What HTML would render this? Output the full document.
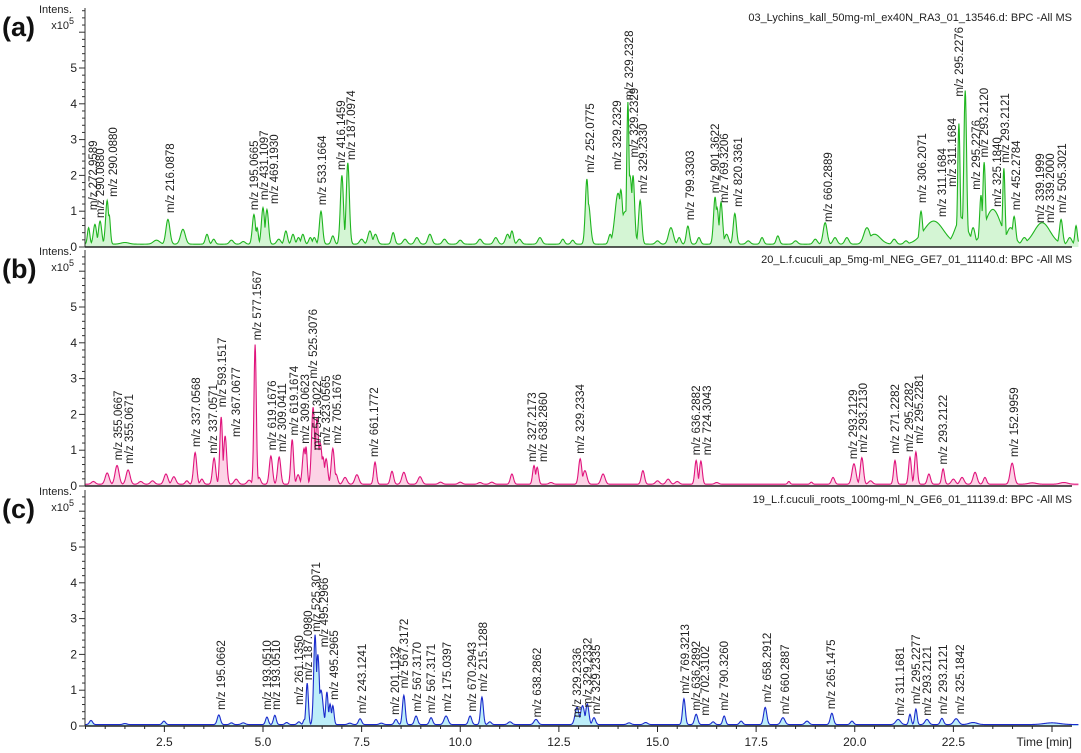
<!DOCTYPE html>
<html><head><meta charset="utf-8"><style>
html,body{margin:0;padding:0;background:#fff}
svg{display:block;font-family:"Liberation Sans",Arial,sans-serif}
</style></head><body>
<svg id="chart" width="1081" height="753" viewBox="0 0 1081 753"></svg>
<script>
// ---------- DATA ----------
const panelIds = ["a","b","c"];
const panelTitles = ["03_Lychins_kall_50mg-ml_ex40N_RA3_01_13546.d: BPC -All MS",
  "20_L.f.cuculi_ap_5mg-ml_NEG_GE7_01_11140.d: BPC -All MS",
  "19_L.f.cuculi_roots_100mg-ml_N_GE6_01_11139.d: BPC -All MS"];
const yTicks = [0,1,2,3,4,5];
const xTicks = [2.5,5.0,7.5,10.0,12.5,15.0,17.5,20.0,22.5];
const xTickLabels = ["2.5","5.0","7.5","10.0","12.5","15.0","17.5","20.0","22.5"];
const baselines = [0.08,0.05,0.04];
// peaks: [retention time (min), intensity (x1e5), width (min)]
const peaksA = [[0.58,0.5,0.03],[0.74,0.6,0.04],[0.87,0.7,0.04],[1.05,1.3,0.04],[1.1,0.9,0.03],[1.5,0.05,0.1],[2.3,0.12,0.08],[2.59,0.75,0.05],[2.97,0.45,0.06],[3.58,0.3,0.04],[3.75,0.15,0.04],[4.2,0.12,0.05],[4.5,0.08,0.05],[4.77,0.9,0.04],[4.85,0.5,0.03],[5.0,1.1,0.04],[5.1,1.05,0.04],[5.4,0.15,0.05],[5.58,0.4,0.04],[5.76,0.3,0.04],[5.9,0.2,0.04],[6.01,0.3,0.04],[6.2,0.2,0.04],[6.3,0.2,0.04],[6.47,1.0,0.04],[6.77,0.25,0.04],[7.0,2.0,0.04],[7.15,2.35,0.04],[7.5,0.15,0.05],[7.71,0.4,0.05],[7.85,0.3,0.05],[8.3,0.35,0.04],[8.6,0.15,0.05],[8.9,0.2,0.05],[9.23,0.3,0.05],[9.6,0.15,0.05],[10.0,0.12,0.05],[10.5,0.15,0.05],[10.9,0.2,0.05],[11.2,0.3,0.05],[11.31,0.4,0.04],[11.5,0.15,0.05],[12.02,0.2,0.05],[12.6,0.15,0.04],[12.85,0.12,0.04],[13.21,1.9,0.04],[13.25,1.2,0.05],[13.8,0.3,0.04],[14.0,1.5,0.08],[14.07,1.6,0.05],[14.25,4.05,0.03],[14.3,2.0,0.06],[14.38,2.0,0.04],[14.2,1.0,0.15],[14.56,1.3,0.04],[15.0,0.1,0.05],[15.34,0.5,0.06],[15.55,0.2,0.04],[15.77,0.55,0.04],[16.05,0.2,0.04],[16.46,1.4,0.04],[16.51,1.1,0.04],[16.61,1.25,0.04],[16.75,0.3,0.05],[16.96,0.93,0.04],[17.3,0.1,0.05],[17.65,0.2,0.04],[18.05,0.25,0.04],[18.5,0.1,0.05],[19.0,0.15,0.05],[19.25,0.65,0.05],[19.5,0.2,0.05],[19.8,0.2,0.05],[20.31,0.5,0.08],[20.5,0.3,0.15],[21.0,0.15,0.05],[21.3,0.1,0.05],[21.68,1.0,0.04],[22.0,0.7,0.25],[22.3,0.2,0.05],[22.64,3.45,0.03],[22.8,4.37,0.035],[22.7,0.8,0.15],[23.0,0.5,0.05],[23.2,1.45,0.035],[23.28,2.37,0.035],[23.5,1.05,0.2],[23.78,2.2,0.03],[23.95,0.5,0.1],[24.04,0.84,0.04],[24.3,0.2,0.06],[24.75,0.65,0.2],[25.23,0.75,0.04],[25.45,0.2,0.05],[25.61,0.56,0.03]];
const peaksB = [[0.7,0.08,0.05],[1.05,0.33,0.05],[1.3,0.55,0.05],[1.58,0.42,0.05],[1.9,0.08,0.05],[2.2,0.1,0.05],[2.54,0.3,0.05],[2.74,0.22,0.05],[3.07,0.1,0.04],[3.28,0.93,0.04],[3.45,0.15,0.04],[3.76,0.77,0.04],[3.94,1.93,0.035],[4.04,1.4,0.04],[4.32,0.15,0.05],[4.65,0.12,0.05],[4.8,3.95,0.03],[4.9,0.2,0.04],[5.2,0.83,0.04],[5.41,0.8,0.04],[5.74,1.3,0.035],[5.89,0.28,0.04],[6.04,1.05,0.04],[6.09,1.1,0.03],[6.27,2.2,0.04],[6.37,1.9,0.04],[6.45,1.2,0.05],[6.52,0.8,0.04],[6.6,0.75,0.04],[6.77,1.05,0.04],[6.85,0.3,0.04],[7.08,0.2,0.05],[7.38,0.28,0.05],[7.84,0.65,0.035],[8.27,0.38,0.04],[8.57,0.35,0.05],[8.98,0.22,0.05],[9.5,0.06,0.05],[10.0,0.06,0.05],[10.5,0.05,0.05],[10.8,0.06,0.05],[11.31,0.3,0.04],[11.87,0.55,0.035],[11.95,0.5,0.035],[12.3,0.05,0.05],[13.04,0.75,0.04],[13.16,0.4,0.05],[13.62,0.3,0.05],[14.63,0.4,0.04],[15.0,0.1,0.05],[15.27,0.15,0.05],[15.5,0.08,0.05],[15.98,0.7,0.035],[16.1,0.68,0.035],[16.5,0.05,0.05],[18.33,0.08,0.03],[18.9,0.06,0.03],[19.45,0.2,0.04],[19.98,0.6,0.05],[20.18,0.78,0.04],[20.4,0.1,0.05],[21.02,0.7,0.035],[21.4,0.8,0.035],[21.55,0.95,0.035],[21.88,0.3,0.04],[22.24,0.45,0.035],[22.5,0.15,0.05],[22.72,0.2,0.05],[23.05,0.35,0.05],[23.3,0.2,0.04],[23.99,0.62,0.05],[24.5,0.04,0.1],[25.3,0.05,0.1]];
const peaksC = [[0.64,0.12,0.04],[1.5,0.03,0.05],[2.49,0.1,0.04],[3.88,0.28,0.04],[4.2,0.05,0.04],[4.5,0.05,0.05],[5.10,0.22,0.035],[5.30,0.27,0.035],[5.6,0.06,0.04],[5.91,0.08,0.04],[6.05,0.15,0.03],[6.12,1.2,0.03],[6.32,2.55,0.035],[6.39,2.0,0.04],[6.47,1.0,0.05],[6.62,0.95,0.03],[6.70,0.6,0.03],[6.77,0.55,0.03],[7.2,0.04,0.05],[7.46,0.17,0.04],[8.0,0.04,0.05],[8.37,0.15,0.04],[8.57,0.85,0.035],[8.88,0.25,0.04],[9.26,0.2,0.04],[9.64,0.25,0.05],[10.25,0.25,0.04],[10.55,0.8,0.035],[10.75,0.08,0.04],[11.26,0.08,0.05],[11.92,0.15,0.05],[12.96,0.5,0.05],[13.1,0.55,0.05],[13.22,0.6,0.04],[13.39,0.2,0.04],[14.28,0.05,0.05],[14.7,0.06,0.05],[15.67,0.75,0.035],[15.98,0.3,0.04],[16.41,0.08,0.04],[16.69,0.25,0.035],[17.12,0.1,0.04],[17.73,0.5,0.04],[18.18,0.2,0.05],[18.79,0.1,0.05],[19.42,0.33,0.04],[19.93,0.1,0.04],[21.1,0.15,0.06],[21.40,0.3,0.03],[21.55,0.45,0.03],[21.83,0.15,0.05],[22.21,0.18,0.04],[22.57,0.17,0.06],[23.0,0.06,0.1],[25.0,0.05,0.2]];
// annotations: [time, label, level (x1e5)]
const labelsA = [[0.69,"m/z 272.9589",1.03],[0.87,"m/z 290.0880",0.81],[1.20,"m/z 290.0880",1.40],[2.64,"m/z 216.0878",0.95],[4.77,"m/z 195.0665",1.03],[5.03,"m/z 431.1097",1.31],[5.28,"m/z 469.1930",1.20],[6.50,"m/z 533.1664",1.17],[6.98,"m/z 416.1459",2.15],[7.23,"m/z 187.0974",2.43],[13.29,"m/z 252.0775",2.07],[13.97,"m/z 329.2329",2.15],[14.28,"m/z 329.2328",4.1],[14.40,"m/z 329.2329",2.5],[14.63,"m/z 329.2330",1.5],[15.82,"m/z 799.3303",0.75],[16.46,"m/z 901.3622",1.5],[16.69,"m/z 769.3206",1.23],[17.04,"m/z 820.3361",1.12],[19.32,"m/z 660.2889",0.7],[21.70,"m/z 306.2071",1.23],[22.21,"m/z 311.1684",0.84],[22.47,"m/z 311.1684",1.68],[22.64,"m/z 295.2276",4.2],[23.07,"m/z 295.2276",1.6],[23.28,"m/z 293.2120",2.5],[23.61,"m/z 325.1840",1.12],[23.81,"m/z 293.2121",2.35],[24.09,"m/z 452.2784",1.03],[24.70,"m/z 339.1999",0.67],[24.95,"m/z 339.2000",0.67],[25.25,"m/z 505.3021",0.95]];
const labelsB = [[1.32,"m/z 355.0667",0.72],[1.60,"m/z 355.0671",0.62],[3.30,"m/z 337.0568",1.09],[3.73,"m/z 337.0571",0.9],[3.96,"m/z 593.1517",2.2],[4.32,"m/z 367.0677",1.37],[4.85,"m/z 577.1567",4.07],[5.23,"m/z 619.1676",1.0],[5.48,"m/z 309.0411",0.95],[5.79,"m/z 619.1674",1.41],[6.06,"m/z 309.0623",1.18],[6.37,"m/z 541.3022",1.0],[6.27,"m/z 525.3076",3.0],[6.60,"m/z 323.0565",1.14],[6.88,"m/z 705.1676",1.18],[7.81,"m/z 661.1772",0.81],[11.82,"m/z 327.2173",0.67],[12.10,"m/z 638.2860",0.67],[13.04,"m/z 329.2334",0.9],[15.98,"m/z 636.2882",0.86],[16.26,"m/z 724.3043",0.86],[19.96,"m/z 293.2129",0.75],[20.21,"m/z 293.2130",0.93],[21.02,"m/z 271.2282",0.9],[21.37,"m/z 295.2282",0.95],[21.63,"m/z 295.2281",1.18],[22.24,"m/z 293.2122",0.6],[24.04,"m/z 152.9959",0.81]];
const labelsC = [[3.94,"m/z 195.0662",0.45],[5.10,"m/z 193.0510",0.45],[5.33,"m/z 193.0510",0.45],[5.91,"m/z 261.1350",0.59],[6.14,"m/z 187.0980",1.28],[6.34,"m/z 525.3071",2.63],[6.55,"m/z 495.2966",2.2],[6.80,"m/z 495.2965",0.73],[7.51,"m/z 243.1241",0.35],[8.35,"m/z 201.1132",0.31],[8.57,"m/z 567.3172",1.05],[8.90,"m/z 567.3170",0.4],[9.26,"m/z 567.3171",0.35],[9.66,"m/z 175.0397",0.4],[10.30,"m/z 670.2943",0.4],[10.58,"m/z 215.1288",0.96],[11.95,"m/z 638.2862",0.24],[12.96,"m/z 329.2336",0.24],[13.22,"m/z 329.2332",0.52],[13.44,"m/z 329.2335",0.33],[15.70,"m/z 769.3213",0.9],[15.98,"m/z 636.2892",0.43],[16.20,"m/z 702.3102",0.29],[16.69,"m/z 790.3260",0.43],[17.78,"m/z 658.2912",0.66],[18.23,"m/z 660.2887",0.33],[19.40,"m/z 265.1475",0.47],[21.15,"m/z 311.1681",0.29],[21.55,"m/z 295.2277",0.61],[21.83,"m/z 293.2121",0.29],[22.24,"m/z 293.2121",0.33],[22.67,"m/z 325.1842",0.33]];

// ---------- LAYOUT ----------
const NS="http://www.w3.org/2000/svg";
const svg=document.getElementById("chart");
const X0=85, T0=0.48, T1=25.67;
const xs=t=>263+(t-5)*39.45;
const UNIT=35.8;
const zeros=[247,486,726], tops=[8,250,490];
const lineCol=["#1fb51f","#e0157d","#1b2bcc"], fillCol=["#d4f5d4","#fcd3e6","#bdeef9"];
const allPeaks=[peaksA,peaksB,peaksC], allLabels=[labelsA,labelsB,labelsC];
function el(tag,attrs,parent){const e=document.createElementNS(NS,tag);for(const k in attrs)e.setAttribute(k,attrs[k]);(parent||svg).appendChild(e);return e;}

for(let p=0;p<3;p++){
  const z=zeros[p], ys=v=>z-v*UNIT;
  const g=el("g",{});
  
  
  const pk=allPeaks[p];
  let pts=[];
  for(let t=T0;t<=T1+1e-9;t+=0.01){
    let v=0;
    for(const q of pk){const d=(t-q[0])/q[2];if(Math.abs(d)<6)v=Math.max(v,q[1]*Math.exp(-0.5*d*d));}
    v+=baselines[p]*(1-Math.min(1,v));
    pts.push(xs(t).toFixed(2)+","+ys(v).toFixed(2));
  }
  const area=el("polygon",{points:xs(T0)+","+z+" "+pts.join(" ")+" "+xs(T1)+","+z,fill:fillCol[p],stroke:"none"},g);
  
  
  const line=el("polyline",{points:pts.join(" "),fill:"none",stroke:lineCol[p],"stroke-width":1.1},g);
  
  
  const ax=el("line",{x1:X0,y1:tops[p],x2:X0,y2:z,stroke:"#333","stroke-width":1},g);
  
  
  for(let k=0;k<=33;k++){const v=k*0.2;const y=ys(v);if(y<tops[p])break;
    const major=(k%5===0);
    el("line",{x1:X0-(major?6:3),y1:y,x2:X0,y2:y,stroke:"#333","stroke-width":1},g);}
  for(const v of yTicks){
    const tl=el("text",{x:X0-8,y:ys(v)+4,"text-anchor":"end","font-size":12,fill:"#222"},g);
    tl.textContent=v;
    
    
  }
  const it=el("text",{x:72,y:tops[p]+5,"text-anchor":"end","font-size":11,fill:"#222"},g);it.textContent="Intens.";
  
  
  const sc=el("text",{x:74,y:tops[p]+21,"text-anchor":"end","font-size":11,fill:"#222"},g);
  sc.innerHTML='x10<tspan dy="-5" font-size="9">5</tspan>';
  
  
  const bx=el("line",{x1:X0,y1:z,x2:1072,y2:z,stroke:"#222","stroke-width":1.6},g);
  
  
  const pl=el("text",{x:2,y:tops[p]+28,"font-size":27,"font-weight":"bold",fill:"#111"},g);pl.textContent="("+panelIds[p]+")";
  
  
  const tt=el("text",{x:1072,y:tops[p]+13,"text-anchor":"end","font-size":11,fill:"#222"},g);tt.textContent=panelTitles[p];
  
  
  for(const L of allLabels[p]){
    const x=xs(L[0])+4, y=ys(L[2]);
    const a=el("text",{x:x,y:y,transform:"rotate(-90 "+x+" "+y+")","font-size":11.5,fill:"#222"},g);
    a.textContent=L[1];
    
    
  }
}
const zc=zeros[2];
for(let t=0.5;t<=25.5+1e-9;t+=0.5){const x=xs(t);if(x<X0||x>1070)continue;
  const major=Math.abs(t/2.5-Math.round(t/2.5))<1e-6;
  el("line",{x1:x,y1:zc,x2:x,y2:zc+(major?6:3),stroke:"#222","stroke-width":1});}
xTicks.forEach((t,i)=>{
  const tl=el("text",{x:xs(t),y:zc+20,"text-anchor":"middle","font-size":12,fill:"#222"});
  tl.textContent=xTickLabels[i];
  
  
});
const xt=el("text",{x:1072,y:zc+20,"text-anchor":"end","font-size":12,fill:"#222"});xt.textContent="Time [min]";


</script>
</body></html>
